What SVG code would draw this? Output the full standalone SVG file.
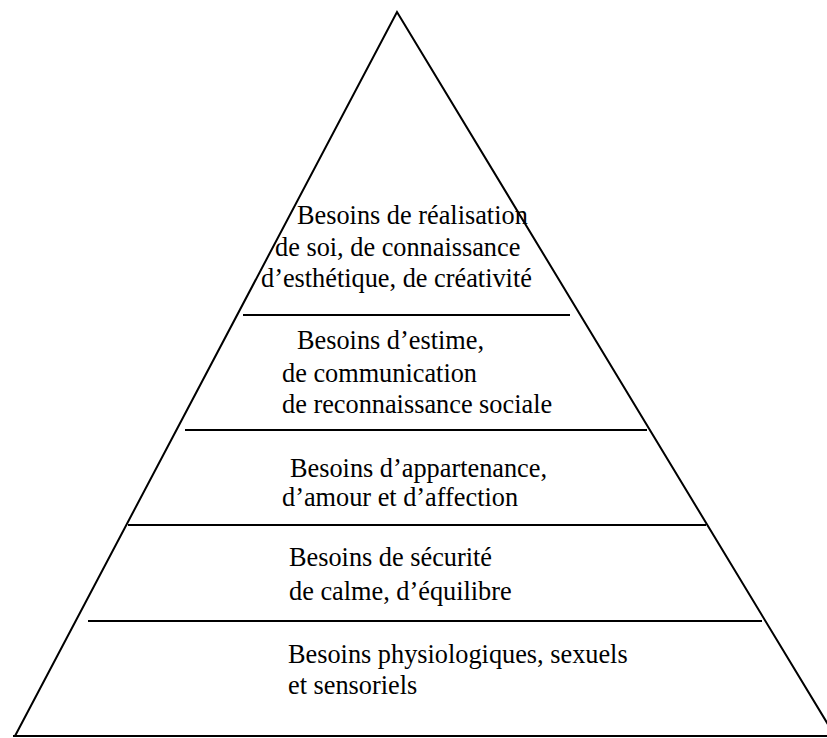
<svg xmlns="http://www.w3.org/2000/svg" width="827" height="738" viewBox="0 0 827 738">
<style>
.t{font-family:"Liberation Serif","Times New Roman",serif;font-size:26.3px;fill:#000}
.s{stroke:#000;stroke-width:2;fill:none}
</style>
<rect width="827" height="738" fill="#fff"/>
<g id="pyramid">
<polyline class="s" points="15,736 397,12 835,736"/>
<line class="s" x1="13" y1="736" x2="827" y2="736"/>
</g>
<g id="dividers">
<line class="s" x1="243" y1="315" x2="570" y2="315"/>
<line class="s" x1="185" y1="430" x2="647" y2="430"/>
<line class="s" x1="128" y1="525" x2="706" y2="525"/>
<line class="s" x1="88" y1="621" x2="762" y2="621"/>
</g>
<g id="level5">
<text class="t" x="297" y="224">Besoins de réalisation</text>
<text class="t" x="275" y="256">de soi, de connaissance</text>
<text class="t" x="261" y="287">d’esthétique, de créativité</text>
</g>
<g id="level4">
<text class="t" x="297" y="349">Besoins d’estime,</text>
<text class="t" x="282" y="382">de communication</text>
<text class="t" x="282" y="413">de reconnaissance sociale</text>
</g>
<g id="level3">
<text class="t" x="290" y="477">Besoins d’appartenance,</text>
<text class="t" x="282" y="506">d’amour et d’affection</text>
</g>
<g id="level2">
<text class="t" x="289" y="566">Besoins de sécurité</text>
<text class="t" x="289" y="600">de calme, d’équilibre</text>
</g>
<g id="level1">
<text class="t" x="288" y="663">Besoins physiologiques, sexuels</text>
<text class="t" x="288" y="694">et sensoriels</text>
</g>
</svg>
